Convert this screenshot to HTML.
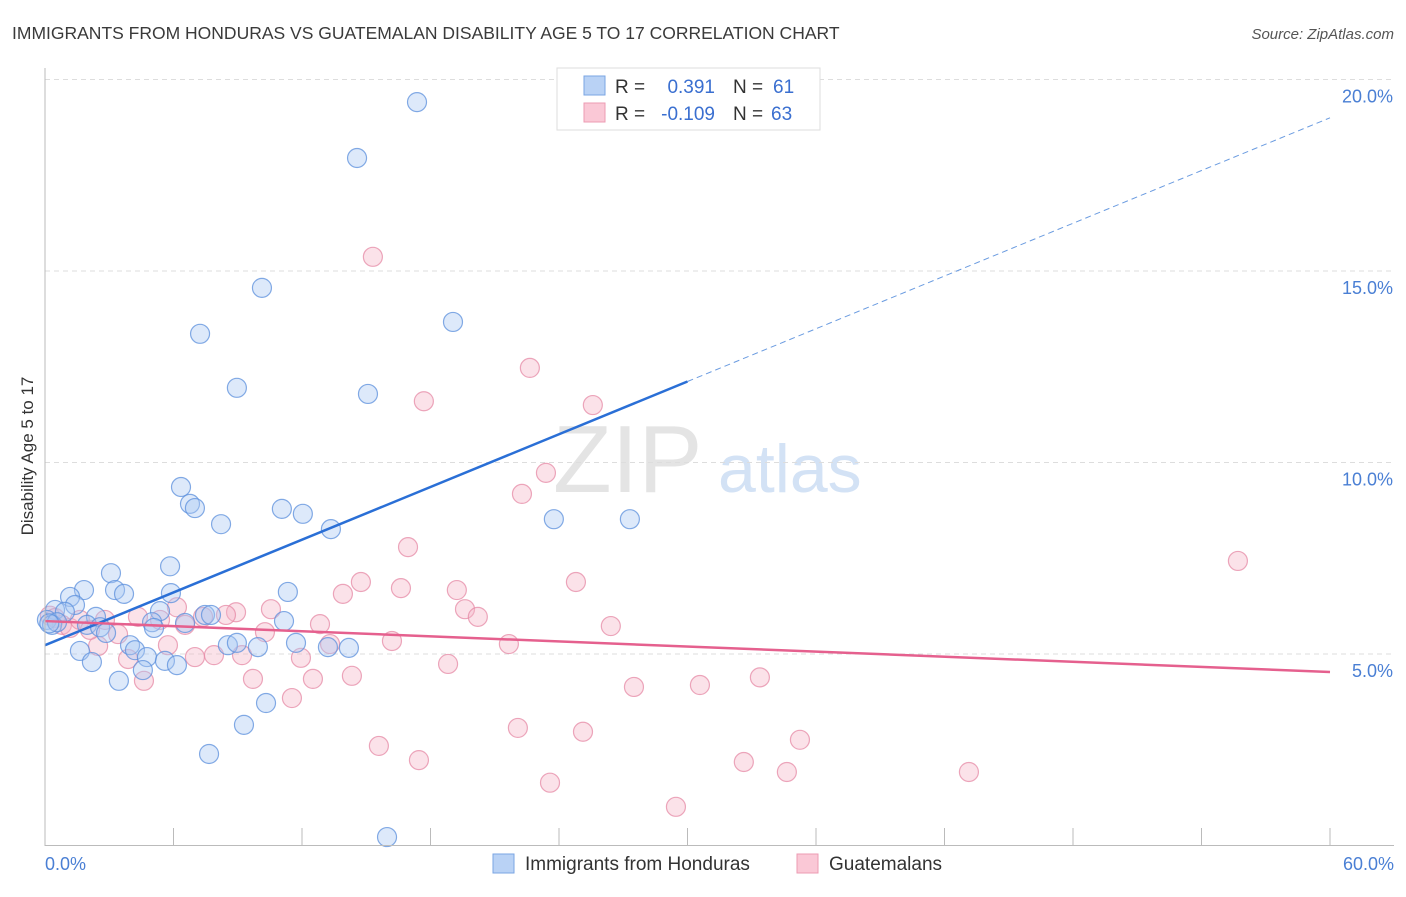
<!DOCTYPE html>
<html><head><meta charset="utf-8"><style>
body{margin:0;background:#fff;font-family:"Liberation Sans",sans-serif;}
svg text{font-family:"Liberation Sans",sans-serif;}
</style></head><body>
<svg id="chart" width="1406" height="892">
<text x="12" y="39" font-size="17.5" fill="#3a3a3a">IMMIGRANTS FROM HONDURAS VS GUATEMALAN DISABILITY AGE 5 TO 17 CORRELATION CHART</text>
<text x="1394" y="39" font-size="15" fill="#555" font-style="italic" text-anchor="end">Source: ZipAtlas.com</text>
<text x="33" y="456" font-size="17" fill="#333" text-anchor="middle" transform="rotate(-90 33 456)">Disability Age 5 to 17</text>
<text x="553" y="492" font-size="96" fill="#e4e4e4" font-family="Liberation Serif">ZIP</text>
<text x="718" y="492" font-size="68" fill="#d3e2f5">atlas</text>
<g id="grid"></g><g id="ticks"></g><g id="pts"></g><g id="lines"></g>
<line x1="45" y1="68" x2="45" y2="846" stroke="#bbb"/>
<line x1="45" y1="845.5" x2="1394" y2="845.5" stroke="#bbb"/>
<text x="45" y="870" font-size="18" fill="#4a7fd4">0.0%</text>
<text x="1394" y="870" font-size="18" fill="#4a7fd4" text-anchor="end">60.0%</text>
<g>
<rect x="557" y="68" width="263" height="62" fill="#fff" stroke="#ddd"/>
<rect x="584" y="76" width="21" height="19" fill="#b9d2f5" stroke="#7aa5e3"/>
<rect x="584" y="103" width="21" height="19" fill="#fac8d6" stroke="#ec9bb3"/>
<text x="615" y="93" font-size="19" fill="#333">R =</text>
<text x="715" y="93" font-size="19" fill="#3a6fd0" text-anchor="end">0.391</text>
<text x="733" y="93" font-size="19" fill="#333">N =</text>
<text x="773" y="93" font-size="19" fill="#3a6fd0">61</text>
<text x="615" y="120" font-size="19" fill="#333">R =</text>
<text x="715" y="120" font-size="19" fill="#3a6fd0" text-anchor="end">-0.109</text>
<text x="733" y="120" font-size="19" fill="#333">N =</text>
<text x="771" y="120" font-size="19" fill="#3a6fd0">63</text>
</g>
<g>
<rect x="493" y="854" width="21" height="19" fill="#b9d2f5" stroke="#7aa5e3"/>
<text x="525" y="870" font-size="19" fill="#333">Immigrants from Honduras</text>
<rect x="797" y="854" width="21" height="19" fill="#fac8d6" stroke="#ec9bb3"/>
<text x="829" y="870" font-size="19" fill="#333">Guatemalans</text>
</g>
</svg>
<script>
const yTicks=[5,10,15,20];
const yTickLabels=["5.0%","10.0%","15.0%","20.0%"];
const xTicks=[0,6,12,18,24,30,36,42,48,54,60];
const blueX=[17.37,14.57,10.13,19.05,7.24,8.96,15.08,6.35,6.77,7.0,11.06,12.04,8.22,13.35,23.76,27.31,3.08,5.84,1.82,1.17,3.27,3.69,5.88,11.34,1.4,2.38,5.37,7.47,7.75,0.47,0.93,0.09,0.33,0.56,1.96,2.57,2.85,5.0,5.09,6.54,11.16,3.97,4.2,1.63,4.76,5.6,6.16,2.19,8.54,8.96,9.94,11.72,13.21,14.19,4.57,3.45,10.32,9.29,7.66,15.97,0.2];
const blueY=[19.41,17.95,14.56,13.67,13.36,11.95,11.79,9.36,8.92,8.81,8.79,8.66,8.39,8.26,8.52,8.52,7.11,7.29,6.67,6.49,6.67,6.57,6.59,6.62,6.28,5.97,6.12,6.02,6.02,6.15,6.1,5.89,5.76,5.83,5.76,5.7,5.55,5.83,5.68,5.81,5.86,5.23,5.1,5.08,4.92,4.82,4.71,4.79,5.23,5.29,5.18,5.29,5.18,5.16,4.58,4.3,3.72,3.15,2.39,0.22,5.8];
const pinkX=[15.31,22.64,25.58,17.69,23.39,22.27,16.95,24.79,14.75,16.62,19.23,13.91,55.7,6.16,10.55,8.92,19.61,20.21,8.45,7.38,4.34,5.37,6.54,12.84,26.42,10.27,3.41,16.2,13.31,21.66,5.74,2.48,9.2,7.89,7.0,3.88,11.95,18.82,4.62,9.71,12.51,14.33,27.5,30.58,33.38,11.53,22.08,25.12,35.25,15.59,17.46,32.63,34.64,43.14,23.58,29.46,0.23,0.47,0.79,1.17,1.63,2.8,2.1];
const pinkY=[15.37,12.47,11.5,11.6,9.73,9.18,7.79,6.88,6.88,6.72,6.67,6.57,7.43,6.22,6.17,6.09,6.17,5.97,6.02,5.97,5.97,5.89,5.76,5.78,5.73,5.57,5.52,5.34,5.26,5.26,5.23,5.21,4.97,4.97,4.92,4.87,4.9,4.74,4.3,4.35,4.35,4.43,4.14,4.19,4.39,3.85,3.07,2.97,2.76,2.6,2.23,2.18,1.92,1.92,1.64,1.01,6.0,5.94,5.76,5.68,5.89,5.89,5.63];
const blueTrend=[5.23,19.0];
const pinkTrend=[5.86,4.53];
const NS='http://www.w3.org/2000/svg';
const X=v=>45+v*1285/60;
const Y=v=>845.5-v*38.3;
function mk(tag,attrs,parent){const e=document.createElementNS(NS,tag);for(const k in attrs)e.setAttribute(k,attrs[k]);document.getElementById(parent).appendChild(e);return e;}
yTicks.forEach((t,i)=>{
 const l=mk('line',{x1:45,x2:1394,y1:Y(t),y2:Y(t),stroke:'#ddd','stroke-dasharray':'5,4'},'grid');
 
 
 const tx=mk('text',{x:1393,y:Y(t)+23,'font-size':18,fill:'#4a7fd4','text-anchor':'end'},'grid');
 tx.textContent=yTickLabels[i];
 
 
});
xTicks.forEach(t=>{
 const l=mk('line',{x1:X(t),x2:X(t),y1:828,y2:845,stroke:'#bbb'},'ticks');
 
 
});
function dots(xs,ys,fill,stroke,name){
 xs.forEach((x,i)=>{
  const c=mk('circle',{cx:X(x),cy:Y(ys[i]),r:9.5,fill:fill,'fill-opacity':0.4,stroke:stroke,'stroke-opacity':0.75,'stroke-width':1.2},'pts');
  
  
 });
}
dots(pinkX,pinkY,'#f6b6c8','#e58aa6','guatemalan-point');
dots(blueX,blueY,'#a9c8f2','#5b8fdc','honduras-point');
const bx=30;
const byMid=blueTrend[0]+(blueTrend[1]-blueTrend[0])*bx/60;
let l1=mk('line',{x1:X(0),y1:Y(blueTrend[0]),x2:X(bx),y2:Y(byMid),stroke:'#2a6fd6','stroke-width':2.5},'lines');


let l2=mk('line',{x1:X(bx),y1:Y(byMid),x2:X(60),y2:Y(blueTrend[1]),stroke:'#6a9be0','stroke-width':1,'stroke-dasharray':'6,4'},'lines');


let l3=mk('line',{x1:X(0),y1:Y(pinkTrend[0]),x2:X(60),y2:Y(pinkTrend[1]),stroke:'#e5608e','stroke-width':2.5},'lines');


</script>
</body></html>
